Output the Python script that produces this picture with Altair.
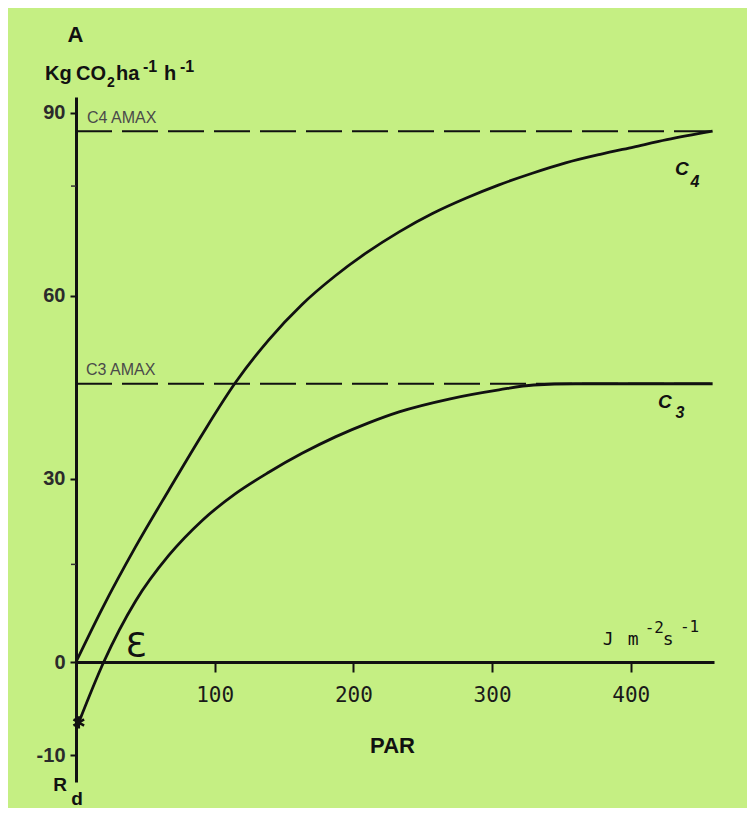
import altair as alt
import pandas as pd

# ---------------- data ----------------
c4_par = [0, 19, 43, 67, 91, 115, 139, 163, 187, 209, 233, 257, 281, 305, 329, 353, 378, 402, 426, 459]
c4_a = [0, 8.8, 18.9, 28.2, 37.3, 45.8, 52.8, 58.6, 63.3, 67.0, 70.5, 73.5, 76.0, 78.2, 80.1, 81.8, 83.2, 84.4, 85.6, 87.0]

c3_par = [2, 20, 43, 67, 91, 115, 139, 163, 187, 211, 233, 269, 305, 330, 360, 459]
c3_a = [-6.5, 0, 10.0, 17.5, 23.2, 27.6, 31.1, 34.2, 36.9, 39.2, 41.0, 43.1, 44.6, 45.4, 45.6, 45.6]

amax_names = ["C4 AMAX", "C3 AMAX"]
amax_values = [87.0, 45.6]
amax_start = [0, 0]
amax_end = [460, 460]

rd_par = [2]
rd_value = [-6.5]

x_ticks = [100, 200, 300, 400]
y_ticks = [-10, 0, 30, 60, 90]
y_minor = [16, 78]

par_domain = [0, 460]
a_domain = [-12.9, 0, 92.6]      # the printed axis is stretched below zero
a_range = [685, 565, 0]

# labels attached to the data space
curve_letter = ["C", "C"]
curve_letter_par = [436.8, 424.5]
curve_letter_a = [79.8, 41.6]
curve_sub = ["4", "3"]
curve_sub_par = [446.2, 435.4]
curve_sub_a = [77.9, 40.0]

amax_label_par = [7.9, 7.2]
amax_label_a = [88.4, 47.0]

eps_text = ["Ɛ"]
eps_par = [43.3]
eps_a = [0.8]

unit_text = ["J", "m", "s"]
unit_par = [379.8, 397.8, 423.0]
unit_a = [2.8, 2.8, 2.8]
unit_sup = ["-2", "-1"]
unit_sup_par = [410.0, 435.4]
unit_sup_a = [4.75, 4.9]

# unit title pieces of the y axis (text only)
y_unit_parts = ["Kg", "CO", "2", "ha", "-1", "h", "-1"]

# ---------------- layout / style ----------------
BG = "#c5ef83"
INK = "#111111"
W, H = 638, 685
# (x, baseline y, font size) in plot pixels for each y unit piece
y_unit_layout = [(-31, -17, 20), (0, -17, 20), (31, -10, 14), (40, -17, 20),
                 (67, -25, 16), (88, -17, 20), (104, -25, 16)]

x_axis = alt.Axis(
    values=x_ticks, title="PAR", orient="bottom", offset=-120, grid=False,
    domainColor=INK, domainWidth=3, tickColor=INK, tickWidth=2, tickSize=10,
    labelPadding=12, labelFont="DejaVu Sans Mono", labelFontSize=21,
    labelColor="#1a1a1a", labelFlush=False,
    titleFont="Liberation Sans", titleFontSize=22, titleFontWeight="bold",
    titleColor=INK, titleX=316, titleY=90, titleBaseline="alphabetic",
    titleAlign="center",
)
y_axis = alt.Axis(
    values=y_ticks, title=None, grid=False,
    domainColor=INK, domainWidth=3, tickColor=INK, tickWidth=2, tickSize=6,
    labelPadding=5, labelFont="Liberation Sans", labelFontSize=20,
    labelFontWeight="bold", labelColor="#2b2b2b", labelFlush=False,
    labelExpr="replace(datum.label, '\u2212', '-')",
)
x_scale = alt.Scale(domain=par_domain, nice=False, zero=False)
y_scale = alt.Scale(domain=a_domain, range=a_range, nice=False, zero=False)

X = alt.X("par:Q", scale=x_scale, axis=x_axis)
Y = alt.Y("a:Q", scale=y_scale, axis=y_axis)
X2 = alt.X2("par_end:Q")

c4_df = pd.DataFrame({"par": c4_par, "a": c4_a})
c3_df = pd.DataFrame({"par": c3_par, "a": c3_a})
amax_df = pd.DataFrame({"name": amax_names, "a": amax_values, "par": amax_start,
                        "par_end": amax_end, "lab_par": amax_label_par,
                        "lab_a": amax_label_a})
rd_df = pd.DataFrame({"par": rd_par, "a": rd_value})
minor_df = pd.DataFrame({"a": y_minor})

amax_lines = alt.Chart(amax_df).mark_rule(
    color=INK, strokeWidth=2, strokeDash=[36, 10]
).encode(x=X, x2=X2, y=Y)

c4_line = alt.Chart(c4_df).mark_line(
    color=INK, strokeWidth=2.8, interpolate="monotone"
).encode(x=X, y=Y)
c3_line = alt.Chart(c3_df).mark_line(
    color=INK, strokeWidth=2.8, interpolate="monotone"
).encode(x=X, y=Y)

star_path = "M0,-1L0,1M-0.87,-0.5L0.87,0.5M-0.87,0.5L0.87,-0.5"
rd_point = alt.Chart(rd_df).mark_point(
    shape=star_path, filled=False, color=INK, strokeWidth=2.6, size=150, opacity=1
).encode(x=X, y=Y)

minor_ticks = alt.Chart(minor_df).mark_rule(color="#333333", strokeWidth=1.5).encode(
    y=Y, x=alt.value(-5), x2=alt.value(0)
)

amax_text = alt.Chart(amax_df).mark_text(
    align="left", baseline="alphabetic", font="Liberation Sans", fontSize=16,
    color="#4a4a4a"
).encode(x=alt.X("lab_par:Q", scale=x_scale, axis=x_axis),
         y=alt.Y("lab_a:Q", scale=y_scale, axis=y_axis), text="name:N")

letters_df = pd.DataFrame({"t": curve_letter, "par": curve_letter_par, "a": curve_letter_a})
subs_df = pd.DataFrame({"t": curve_sub, "par": curve_sub_par, "a": curve_sub_a})
letters = alt.Chart(letters_df).mark_text(
    align="center", baseline="alphabetic", font="Liberation Sans", fontSize=19,
    fontWeight="bold", fontStyle="italic", color=INK
).encode(x=X, y=Y, text="t:N")
subs = alt.Chart(subs_df).mark_text(
    align="center", baseline="alphabetic", font="Liberation Sans", fontSize=16,
    fontWeight="bold", fontStyle="italic", color=INK
).encode(x=X, y=Y, text="t:N")

eps_df = pd.DataFrame({"t": eps_text, "par": eps_par, "a": eps_a})
eps = alt.Chart(eps_df).mark_text(
    align="center", baseline="alphabetic", font="DejaVu Sans", fontSize=34,
    color=INK
).encode(x=X, y=Y, text="t:N")

units_df = pd.DataFrame({"t": unit_text, "par": unit_par, "a": unit_a})
units_sup_df = pd.DataFrame({"t": unit_sup, "par": unit_sup_par, "a": unit_sup_a})
units = alt.Chart(units_df).mark_text(
    align="left", baseline="alphabetic", font="DejaVu Sans Mono", fontSize=18,
    color=INK
).encode(x=X, y=Y, text="t:N")
units_sup = alt.Chart(units_sup_df).mark_text(
    align="left", baseline="alphabetic", font="DejaVu Sans Mono", fontSize=16,
    color=INK
).encode(x=X, y=Y, text="t:N")

def label(txt, x, y, size, align="left", weight="bold"):
    return alt.Chart(pd.DataFrame({"t": [txt]})).mark_text(
        align=align, baseline="alphabetic", font="Liberation Sans",
        fontSize=size, fontWeight=weight, color=INK
    ).encode(x=alt.value(x), y=alt.value(y), text="t:N")

y_unit_layers = [label(t, x, y, s) for t, (x, y, s) in zip(y_unit_parts, y_unit_layout)]

panel_a = label("A", -0.5, -55, 22, align="center")
rd_r = label("R", -16, 694, 19, align="center")
rd_d = label("d", 1, 708, 19, align="center")

chart = alt.layer(
    amax_lines, c4_line, c3_line, rd_point, minor_ticks, amax_text,
    letters, subs, eps, units, units_sup, panel_a, rd_r, rd_d, *y_unit_layers
).properties(
    width=W, height=H,
    autosize=alt.AutoSizeParams(type="none"),
    padding={"left": 68, "top": 89, "right": 33, "bottom": 26},
    background=BG,
).configure_view(stroke=None)

chart.save("out.html", embed_options={"renderer": "svg", "actions": False})
